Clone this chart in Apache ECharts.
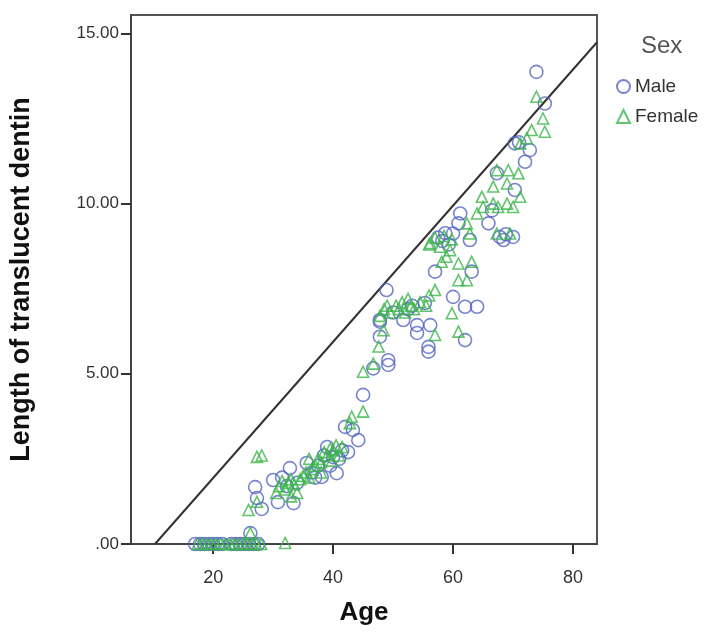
<!DOCTYPE html>
<html>
<head>
<meta charset="utf-8">
<script src="https://cdn.jsdelivr.net/npm/echarts@6/dist/echarts.min.js"></script>
<style>
  html, body { margin: 0; padding: 0; background: #fff; }
  #chart { width: 708px; height: 637px; }
</style>
</head>
<body>
<div id="chart"></div>
<script>
// 刻度
const xTicks = [20, 40, 60, 80]
const yTicks = [0, 5, 10, 15]

// Male: [age, length]
const maleData = [
  [17, 0], [17.8, 0], [18.5, 0], [19.3, 0], [20, 0], [20.8, 0], [21.5, 0], [23, 0],
  [23.8, 0], [24.5, 0], [25.2, 0], [26, 0], [26.8, 0], [27.5, 0],
  [26.2, 0.32], [27, 1.67], [27.3, 1.35], [28.1, 1.03], [30, 1.88], [30.8, 1.23],
  [31.5, 1.95], [32.3, 1.7], [32.8, 2.23], [33.4, 1.2], [34, 1.8], [35.6, 2.38],
  [36.5, 2.1], [37, 1.95], [37.5, 2.3], [38.1, 1.97], [38.5, 2.6], [39.5, 2.3],
  [39, 2.85], [40, 2.55], [40.6, 2.08], [41, 2.5], [41.5, 2.75],
  [42, 3.44], [42.5, 2.7], [43.3, 3.35], [44.2, 3.05], [45, 4.38],
  [46.7, 5.16], [47.8, 6.09], [47.8, 6.53], [47.8, 6.58], [48.9, 7.46], [49.2, 5.26],
  [49.2, 5.4], [50, 6.8], [51.7, 6.58], [52.5, 6.9], [53.2, 7.0], [54, 6.2], [54, 6.43],
  [55.3, 7.08], [55.9, 5.65], [55.9, 5.79], [56.2, 6.43], [57, 8.0], [57.5, 9.0],
  [58.2, 8.9], [58.7, 9.13], [59.3, 8.8], [60, 9.12], [60, 7.26], [60.9, 9.42],
  [61.2, 9.71], [62, 6.97], [62, 5.99], [62.8, 8.93], [63.1, 8.0], [64, 6.97],
  [65.9, 9.42], [66.5, 9.8], [67.3, 10.89], [67.8, 9.02], [68.4, 8.93], [68.8, 9.1],
  [70, 9.02], [70.3, 10.4], [70.3, 11.77], [71, 11.8], [72, 11.23], [72.8, 11.57],
  [73.9, 13.87], [75.3, 12.94]
]

// Female: [age, length]
const femaleData = [
  [17.4, 0], [18.2, 0], [19, 0], [19.7, 0], [20.4, 0], [21.2, 0], [22, 0], [22.8, 0],
  [23.5, 0], [24.2, 0], [25, 0], [25.7, 0], [26.5, 0], [27.2, 0], [28, 0], [32, 0.03],
  [26.2, 0.32], [25.9, 1.0], [27.3, 1.24], [27.3, 2.56], [28.1, 2.6],
  [30.5, 1.5], [31, 1.7], [31.5, 1.85], [32, 1.6], [32.5, 1.8], [33, 1.9], [33, 1.4],
  [33.5, 1.75], [34, 1.5], [34.5, 1.9], [35, 2.0], [35.5, 2.1], [36, 1.95], [36, 2.5],
  [36.5, 2.2], [37, 2.3], [37.5, 2.5], [38, 2.4], [38, 2.1], [38.5, 2.7], [39, 2.6],
  [39.5, 2.8], [40, 2.75], [40.5, 2.9], [41, 2.6], [41.5, 2.85], [39.8, 2.45],
  [42.8, 3.55], [43.1, 3.74], [45, 3.89], [45, 5.06], [46.7, 5.3], [47.6, 5.8],
  [48.4, 6.28], [47.8, 6.7], [48.5, 6.9], [49, 7.0], [49.5, 6.8], [50.5, 7.0],
  [51, 6.9], [51.5, 7.1], [52, 6.8], [52.5, 7.2], [53, 7.0], [53.5, 6.9], [54.5, 7.1],
  [55.5, 7.0], [56, 7.3], [57, 7.46], [57, 6.14], [59.8, 6.78], [60.9, 6.24],
  [60.9, 7.75], [62.3, 7.75], [60.9, 8.24], [63.1, 8.29], [58.1, 8.29], [56, 8.8],
  [56.2, 8.84], [57.8, 8.73], [59.5, 8.63], [58.9, 8.44], [57, 9.0], [58.5, 9.05],
  [59.8, 8.95], [62.3, 9.42], [62.8, 9.12], [64, 9.71], [65, 9.9], [67.5, 9.9],
  [67.3, 9.12], [69.5, 9.12], [70, 9.9], [64.8, 10.2], [66.7, 10.0], [69, 10.0],
  [66.7, 10.5], [69, 10.59], [71.2, 10.2], [67.3, 10.98], [69.2, 10.98], [70.9, 10.89],
  [71.2, 11.77], [72.3, 11.92], [73.1, 12.16], [75.3, 12.11], [75, 12.5], [73.9, 13.14]
]

// 参考线两端
const refLine = [[10.3, 0], [84, 14.74]]

const font = 'Liberation Sans, Arial, sans-serif'
const maleColor = '#5565c2'
const femaleColor = '#3bb54a'

const chart = echarts.init(document.getElementById('chart'))
chart.setOption({
  backgroundColor: '#fff',
  animation: false,
  title: {
    text: 'Sex',
    left: 636,
    top: 29,
    textStyle: { fontFamily: font, fontSize: 24, fontWeight: 'normal', color: '#555' }
  },
  legend: {
    orient: 'vertical',
    left: 611,
    top: 72,
    itemWidth: 13,
    itemHeight: 13,
    itemGap: 11,
    textStyle: { fontFamily: font, fontSize: 19, color: '#333' },
    data: ['Male', 'Female']
  },
  grid: {
    left: 131,
    right: 111,
    top: 15,
    bottom: 93,
    show: true,
    borderColor: '#555',
    borderWidth: 2
  },
  xAxis: {
    type: 'value',
    min: 6.3,
    max: 84,
    name: 'Age',
    nameLocation: 'middle',
    nameGap: 56,
    nameTextStyle: { fontFamily: font, fontSize: 26, fontWeight: 'bold', color: '#111' },
    axisLine: { show: true, lineStyle: { color: '#444', width: 2 } },
    axisTick: { show: true, length: 10, customValues: xTicks, lineStyle: { color: '#333', width: 2 } },
    axisLabel: { customValues: xTicks, fontFamily: font, fontSize: 18, color: '#333', margin: 25 },
    splitLine: { show: false }
  },
  yAxis: {
    type: 'value',
    min: 0,
    max: 15.54,
    name: 'Length of translucent dentin',
    nameLocation: 'middle',
    nameGap: 96,
    nameTextStyle: { fontFamily: font, fontSize: 27, fontWeight: 'bold', color: '#111' },
    axisLine: { show: true, lineStyle: { color: '#444', width: 2 } },
    axisTick: { show: true, length: 10, customValues: yTicks, lineStyle: { color: '#333', width: 2 } },
    axisLabel: {
      customValues: yTicks,
      fontFamily: font,
      fontSize: 17,
      color: '#333',
      margin: 12,
      formatter: v => v === 0 ? '.00' : v.toFixed(2)
    },
    splitLine: { show: false }
  },
  series: [
    {
      name: 'Male',
      type: 'scatter',
      symbol: 'circle',
      symbolSize: 13,
      itemStyle: { color: 'rgba(0,0,0,0)', borderColor: maleColor, borderWidth: 1.6 },
      data: maleData
    },
    {
      name: 'Female',
      type: 'scatter',
      symbol: 'triangle',
      symbolSize: 11,
      itemStyle: { color: 'rgba(0,0,0,0)', borderColor: femaleColor, borderWidth: 1.6 },
      data: femaleData
    },
    {
      type: 'line',
      data: refLine,
      symbol: 'none',
      silent: true,
      lineStyle: { color: '#333', width: 2 },
      z: 1
    }
  ]
})
</script>
</body>
</html>
